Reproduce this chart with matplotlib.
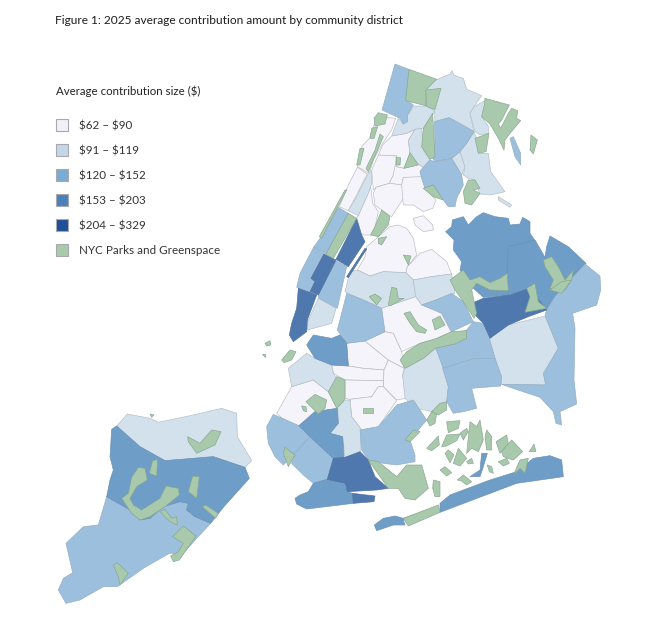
import matplotlib
matplotlib.use("Agg")
import matplotlib.pyplot as plt
from matplotlib.patches import Polygon, Rectangle

plt.rcParams['font.family'] = ['Lato', 'DejaVu Sans']

TITLE = "Figure 1: 2025 average contribution amount by community district"
LEGEND_TITLE = r"Average contribution size (\$)"
legend_labels = [r"\$62 – \$90", r"\$91 – \$119", r"\$120 – \$152", r"\$153 – \$203", r"\$204 – \$329", "NYC Parks and Greenspace"]
legend_colors = ["#f0f1f8", "#c3d7e8", "#7aabd2", "#4a81ba", "#1f4f97", "#a9cbaa"]
map_colors = {"c1": "#f5f4fb", "c2": "#d3e1ed", "c3": "#9bbfdc", "c4": "#6e9dc8", "c5": "#4f79ae", "g": "#a9c9ad"}

# Outlines in map units; north/east boroughs share one grid, Staten Island has its own
c1_north = [
    [(372,225),(385,200),(437,205),(425,240),(395,285),(370,330),(358,370),(322,350),(335,290),(358,265)],
    [(322,352),(352,372),(295,482),(268,470),(295,405)],
    [(325,497),(362,410),(368,460),(385,485),(375,530),(362,555),(340,555),(300,538)],
    [(398,285),(425,258),(470,250),(495,238),(475,272),(480,310),(462,355),(438,350),(440,318),(385,315)],
    [(385,315),(440,318),(438,350),(430,375),(418,400),(378,412),(370,420),(365,360)],
    [(440,318),(438,350),(462,355),(505,342),(520,352),(510,365),(520,385),(460,382),(455,405),(418,400),(430,375)],
    [(378,412),(418,400),(460,405),(460,445),(425,500),(395,480),(375,465),(370,430)],
    [(460,382),(515,380),(525,415),(558,450),(548,475),(520,485),(490,465),(460,465),(455,405)],
    [(490,505),(520,497),(548,525),(550,540),(520,545),(495,525)],
    [(350,590),(420,530),(445,525),(470,535),(490,565),(500,615),(472,650),(468,668),(400,665),(360,678),(322,660),(345,620)],
    [(472,650),(510,610),(545,598),(590,635),(605,672),(545,680),(490,690),(468,668)],
]
c2_north = [
    [(530,118),(545,95),(600,72),(606,62),(612,76),(640,85),(650,118),(695,137),(672,170),(660,190),(672,245),(640,225),(597,203),(555,215),(553,180),(525,165)],
    [(708,150),(672,170),(660,190),(675,245),(690,255),(715,250),(715,230),(695,200)],
    [(490,168),(530,168),(553,182),(548,195),(520,235),(495,238),(470,250),(425,258),(437,225),(445,205),(460,222),(473,215),(473,195)],
    [(355,370),(364,362),(365,400),(355,430),(325,497),(295,482),(320,440),(340,400)],
    [(605,325),(630,305),(645,350),(635,375)],
    [(650,280),(672,245),(680,265),(690,310),(715,310),(722,365),(765,425),(745,430),(720,435),(690,432),(675,390),(655,385),(640,375),(645,350),(630,305)],
    [(475,272),(495,238),(515,235),(520,300),(540,330),(520,352),(505,342),(480,310)],
    [(745,440),(785,465),(780,472),(745,450)],
    [(285,725),(300,665),(322,660),(360,678),(400,665),(468,668),(490,690),(497,740),(395,775),(340,750),(290,728)],
    [(490,690),(545,680),(605,672),(615,730),(515,765),(497,740)],
]
c3_north = [
    [(435,42),(476,58),(470,150),(490,165),(473,195),(472,215),(460,222),(450,205),(396,180)],
    [(265,472),(295,490),(228,612),(192,590),(210,565)],
    [(192,590),(222,612),(183,685),(195,700),(180,730),(140,712),(150,670)],
    [(258,632),(290,650),(262,775),(205,745),(205,730)],
    [(553,215),(597,203),(672,245),(650,280),(630,305),(605,325),(555,335),(545,320),(555,280)],
    [(510,365),(520,352),(540,330),(555,335),(605,325),(635,375),(640,405),(620,445),(615,470),(595,470),(580,450),(550,405),(525,415),(515,385)],
    [(780,265),(790,260),(812,310),(812,345),(795,320)],
]
c4_north = [
    [(587,545),(605,530),(607,510),(640,500),(655,525),(680,500),(700,488),(735,500),(775,505),(780,525),(810,522),(818,502),(840,515),(840,550),(855,572),(775,590),(775,735),(700,742),(665,710),(630,660),(635,635),(610,600),(612,570)],
    [(775,590),(855,570),(885,622),(930,660),(945,680),(965,675),(1008,640),(915,740),(890,780),(838,715),(775,735),(770,690)],
    [(900,558),(955,590),(1008,640),(965,675),(945,680),(930,660),(885,622),(890,590)],
]
c5_north = [
    [(320,505),(335,555),(345,575),(295,650),(258,628)],
    [(222,612),(258,630),(205,735),(180,725),(195,695),(183,685)],
    [(290,680),(345,595),(350,597),(295,683)],
]
g_north = [
    [(477,58),(560,88),(530,118),(527,167),(467,152)],
    [(527,120),(573,115),(555,178),(530,170)],
    [(705,145),(778,165),(755,210),(745,222),(752,235),(775,190),(785,175),(803,182),(800,205),(812,212),(780,250),(765,270),(762,300),(745,265),(720,222),(695,200),(703,165)],
    [(843,255),(862,270),(850,312),(840,300)],
    [(675,265),(717,250),(708,305),(685,310)],
    [(655,390),(675,390),(690,415),(670,420),(690,430),(665,465),(645,460),(640,425)],
    [(520,415),(550,405),(580,450),(550,440)],
    [(520,235),(548,190),(555,320),(540,328),(515,290)],
    [(480,308),(505,345),(462,355)],
    [(438,323),(452,323),(450,345),(440,345)],
    [(385,188),(412,195),(405,222),(375,228),(372,205)],
    [(365,235),(383,230),(372,265),(360,265)],
    [(390,252),(400,260),(355,365),(348,355),(375,300)],
    [(330,295),(342,295),(330,345),(320,345)],
    [(285,420),(290,420),(215,565),(208,560)],
    [(295,490),(320,505),(250,625),(228,612)],
    [(395,480),(420,500),(415,525),(385,560),(362,555),(375,530)],
    [(385,565),(410,560),(395,585),(385,580)],
    [(460,615),(483,618),(475,645)],
    [(880,630),(905,620),(925,650),(945,690),(970,660),(965,690),(945,720),(900,715),(910,690),(885,650)],
    [(600,690),(640,660),(660,690),(690,680),(720,698),(750,685),(772,670),(775,722),(720,720),(680,700),(665,720),(680,790),(672,805),(640,755),(615,720)],
]

# South grid
c1_south = [
    [(395,85),(497,50),(515,75),(545,65),(575,100),(600,150),(605,155),(555,178),(510,190),(455,215),(430,160),(405,155),(385,95)],
    [(290,190),(345,183),(415,240),(402,270),(340,265),(295,258)],
    [(345,183),(405,155),(430,160),(455,215),(462,265),(415,240)],
    [(245,255),(295,258),(340,265),(402,270),(400,302),(285,300),(250,280)],
    [(415,240),(462,265),(458,285),(468,355),(440,360),(400,320),(402,270)],
    [(285,300),(400,302),(400,320),(385,320),(365,350),(300,358),(285,355)],
    [(300,358),(365,350),(385,320),(400,320),(440,362),(385,440),(335,450),(305,410)],
    [(80,400),(125,320),(190,300),(235,335),(262,385),(195,395),(147,437),(125,440)],
]
c2_south = [
    [(715,175),(775,135),(885,108),(925,205),(882,282),(887,315),(755,313),(735,235)],
    [(458,285),(465,265),(520,235),(558,205),(580,265),(595,320),(590,365),(545,395),(525,390),(500,385),(465,355)],
    [(115,265),(170,220),(195,235),(245,255),(250,280),(262,300),(235,335),(190,300),(125,320)],
    [(262,360),(300,360),(305,410),(335,450),(330,520),(285,532),(278,470),(240,460),(265,430)],
    [(205,55),(258,85),(245,130),(172,150),(175,120)],
]
c3_south = [
    [(885,105),(925,205),(880,280),(887,315),(755,313),(780,322),(870,352),(910,395),(918,430),(935,435),(930,395),(980,372),(972,300),(975,145),(968,100),(1040,75),(1052,30),(1050,-12),(1005,-48),(915,50),(890,90)],
    [(515,75),(545,65),(605,40),(640,65),(670,125),(605,155),(575,100)],
    [(558,205),(605,170),(650,150),(670,125),(700,130),(718,175),(735,235),(675,235),(580,265)],
    [(578,265),(675,235),(735,235),(755,290),(752,318),(665,325),(680,385),(640,395),(610,400),(590,365),(595,320)],
    [(50,440),(70,403),(147,437),(180,470),(130,525),(100,555),(75,530),(55,490)],
    [(130,525),(180,470),(250,535),(232,598),(190,610),(160,585),(125,550)],
    [(330,450),(385,440),(440,375),(490,360),(530,420),(480,480),(495,525),(495,545),(440,555),(400,550),(355,540),(335,510)],
    [(290,40),(340,60),(395,85),(405,155),(345,183),(290,190),(262,150),(280,80)],
]
c4_south = [
    [(170,195),(190,165),(245,175),(270,165),(290,190),(295,258),(245,255),(195,235)],
    [(147,437),(195,395),(262,385),(265,430),(240,460),(278,470),(282,532),(250,535),(180,470)],
    [(135,655),(150,645),(175,635),(190,610),(232,598),(287,610),(292,635),(308,640),(310,670),(170,687),(140,672)],
    [(570,670),(600,645),(720,600),(800,575),(850,535),(900,527),(935,540),(940,590),(800,610),(570,697)],
    [(373,735),(400,715),(435,708),(460,715),(520,695),(460,720),(465,735),(430,735),(380,752)],
    [(660,590),(690,570),(695,520),(712,520),(700,560),(690,590)],
]
c5_south = [
    [(145,25),(200,45),(172,120),(140,85)],
    [(140,85),(172,120),(170,155),(130,185),(118,165),(125,130)],
    [(665,70),(700,55),(780,45),(838,25),(890,90),(835,110),(775,135),(720,175),(700,130),(680,110)],
    [(250,535),(285,532),(330,515),(355,540),(375,590),(415,625),(380,630),(292,635),(287,610),(232,598)],
    [(308,640),(375,648),(372,665),(310,670)],
]
g_south = [
    [(825,97),(840,50),(830,25),(855,10),(865,65),(890,85)],
    [(900,30),(935,5),(965,0),(935,40)],
    [(358,50),(375,42),(395,55),(380,75)],
    [(415,75),(425,22),(440,25),(445,55),(462,55),(420,78)],
    [(462,100),(480,95),(505,135),(530,150),(525,160),(500,155),(480,130)],
    [(547,120),(570,108),(585,135),(555,150)],
    [(450,240),(470,215),(510,190),(560,175),(605,155),(650,152),(650,175),(615,192),(555,205),(520,235),(465,265)],
    [(235,335),(260,290),(285,300),(285,355),(280,365),(260,385)],
    [(168,365),(195,343),(230,360),(225,385),(205,402)],
    [(155,378),(168,380),(170,395),(160,392)],
    [(338,383),(370,383),(370,400),(340,400)],
    [(100,520),(105,502),(135,525),(115,560)],
    [(465,480),(490,450),(510,455),(480,485)],
    [(530,420),(545,395),(560,400),(555,430),(540,438)],
    [(545,395),(570,370),(590,365),(590,390),(565,405)],
    [(355,540),(385,545),(440,590),(470,555),(515,555),(535,625),(495,660),(465,655),(445,625),(415,625)],
    [(590,425),(630,422),(625,445),(595,458)],
    [(630,460),(650,445),(655,455),(640,480)],
    [(530,505),(565,468),(568,495),(545,512)],
    [(575,500),(590,465),(630,462),(620,482),(590,498)],
    [(585,520),(595,510),(612,525),(600,548)],
    [(610,550),(625,505),(650,535),(630,558)],
    [(650,545),(665,535),(670,550),(655,552)],
    [(570,570),(585,560),(605,578),(590,588)],
    [(550,600),(570,605),(570,650),(555,650),(548,625)],
    [(622,600),(640,585),(665,605),(650,615),(635,603)],
    [(650,520),(660,425),(680,440),(690,420),(700,480),(685,515),(665,505)],
    [(705,470),(710,450),(725,470),(725,510),(710,510)],
    [(712,555),(725,560),(730,580),(718,575)],
    [(738,485),(770,465),(775,490),(750,520)],
    [(755,515),(785,480),(818,515),(790,540),(760,530)],
    [(745,545),(770,535),(778,550),(760,558)],
    [(790,585),(810,540),(835,535),(825,580),(810,565)],
    [(838,515),(852,492),(858,515)],
    [(460,715),(565,675),(570,697),(475,738)],
    [(45,190),(60,182),(62,195),(50,198)],
    [(35,222),(45,222),(45,230)],
    [(95,240),(120,210),(138,215),(125,240),(102,248)],
]

# Staten Island grid
c2_si = [[(230,108),(262,72),(330,85),(355,97),(460,75),(545,55),(590,70),(592,140),(635,212),(615,232),(520,200),(375,212),(300,170)]]
c3_si = [[(200,320),(270,360),(300,390),(330,385),(370,350),(420,335),(445,340),(440,360),(465,380),(512,400),(470,445),(430,490),(388,490),(310,535),(232,590),(190,590),(120,630),(78,640),(55,600),(70,565),(98,548),(78,460),(130,410),(175,405)]]
c4_si = [[(215,118),(230,108),(300,170),(375,212),(520,200),(615,232),(628,265),(550,352),(512,400),(465,380),(440,360),(445,340),(420,335),(370,350),(330,385),(300,390),(270,360),(200,320),(210,270),(220,240),(210,200)]]
g_si = [
    [(443,140),(480,160),(515,120),(543,125),(525,165),(470,190),(445,155)],
    [(338,212),(353,208),(350,258),(328,250)],
    [(275,262),(295,232),(315,235),(322,270),(290,290),(270,325),(280,345),(305,360),(360,325),(378,288),(415,295),(418,315),(375,350),(330,380),(300,390),(275,370),(245,325),(265,310)],
    [(458,258),(478,260),(470,325),(445,305)],
    [(360,365),(375,358),(395,385),(410,380),(412,405),(390,395)],
    [(487,350),(497,345),(535,370),(527,385)],
    [(398,440),(430,408),(468,438),(418,510),(400,515),(392,498),(415,485),(430,460)],
    [(220,525),(232,518),(265,550),(240,585),(235,560)],
    [(330,72),(342,75),(335,82)],
]

fig = plt.figure(figsize=(6.53, 6.24), dpi=100)
ax = fig.add_axes([0, 0, 1, 1])
ax.set_xlim(0, 653)
ax.set_ylim(624, 0)
ax.axis("off")

def draw(polys, key, ox, oy, z):
    edge = {"g": "#86a58e", "c1": "#b9bbc2", "c2": "#b2bcc6", "c3": "#93adc4", "c4": "#6a8fb3", "c5": "#4f6f9a"}[key]
    for p in polys:
        pts = [(ox + x / 3, oy + y / 3) for x, y in p]
        ax.add_patch(Polygon(pts, closed=True, facecolor=map_colors[key], edgecolor=edge, lw=0.45, zorder=z, joinstyle="round"))

NORTH = (250, 50)
SOUTH = (250, 280)
SI = (40, 390)
for polys, key in [(c1_north, "c1"), (c2_north, "c2"), (c3_north, "c3"), (c4_north, "c4"), (c5_north, "c5")]:
    draw(polys, key, *NORTH, 2)
for polys, key in [(c1_south, "c1"), (c2_south, "c2"), (c3_south, "c3"), (c4_south, "c4"), (c5_south, "c5")]:
    draw(polys, key, *SOUTH, 2)
for polys, key in [(c2_si, "c2"), (c3_si, "c3"), (c4_si, "c4")]:
    draw(polys, key, *SI, 2)
draw(g_north, "g", *NORTH, 3)
draw(g_south, "g", *SOUTH, 3)
draw(g_si, "g", *SI, 3)

ax.text(55, 21, TITLE, fontsize=8.55, color="#1c1c1c", va="center", ha="left")
ax.text(56, 91, LEGEND_TITLE, fontsize=8.3, color="#222222", va="center", ha="left")
for i, (lab, col) in enumerate(zip(legend_labels, legend_colors)):
    yc = 125 + 25 * i
    ax.add_patch(Rectangle((56, yc - 6), 12, 12, facecolor=col, edgecolor="#a8a8ae", lw=0.8))
    ax.text(79, yc + 1, lab, fontsize=8.4, color="#333333", va="center", ha="left")

fig.savefig("out.png", dpi=100)
